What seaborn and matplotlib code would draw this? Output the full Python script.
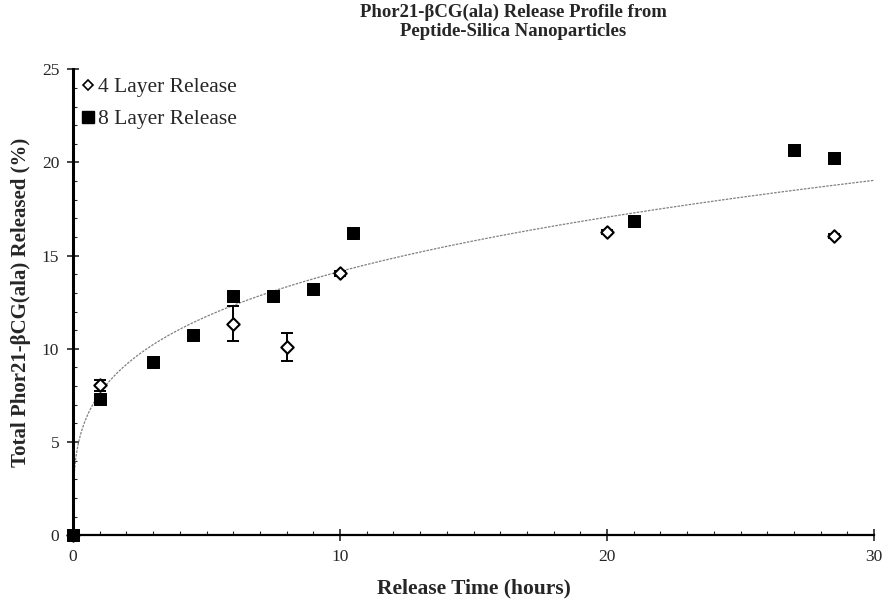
import numpy as np
import pandas as pd
import matplotlib
matplotlib.use("Agg")
import matplotlib.pyplot as plt
from matplotlib.lines import Line2D
from matplotlib.ticker import MultipleLocator
import seaborn as sns

# 4-layer release (mean and error)
time_4 = [0, 1, 6, 8, 10, 20, 28.5]
release_4 = [0, 8.05, 11.35, 10.1, 14.05, 16.25, 16.05]
err_4 = [0, 0.3, 0.95, 0.75, 0.15, 0.1, 0.12]

# 8-layer release
time_8 = [0, 1, 3, 4.5, 6, 7.5, 9, 10.5, 21, 27, 28.5]
release_8 = [0, 7.3, 9.3, 10.75, 12.85, 12.85, 13.2, 16.2, 16.85, 20.65, 20.25]

# power-law trendline y = a * t^b
trend_a = 7.6
trend_b = 0.27

x_ticks = [0, 10, 20, 30]
y_ticks = [0, 5, 10, 15, 20, 25]

sns.set_style("ticks")
plt.rcParams["font.family"] = ["Liberation Serif", "DejaVu Serif"]

fig = plt.figure(figsize=(8.84, 6.02), dpi=100)
ax = fig.add_axes([0.0826, 0.111, 0.9061, 0.774])

t_fit = np.concatenate([[0], np.geomspace(1e-4, 30, 400)])
trend = pd.DataFrame({"t": t_fit, "y": trend_a * t_fit ** trend_b})
sns.lineplot(data=trend, x="t", y="y", ax=ax, color="#808080", lw=0.9,
             linestyle=(0, (2, 1)), zorder=2, legend=False)

ax.errorbar(time_4, release_4, yerr=err_4, fmt="none", ecolor="black",
            elinewidth=1.4, capsize=4, capthick=1.4, zorder=3)

df4 = pd.DataFrame({"t": time_4, "y": release_4})
sns.scatterplot(data=df4, x="t", y="y", ax=ax, marker="D", s=40,
                facecolor="white", edgecolor="black", linewidth=1.5,
                zorder=4, legend=False, clip_on=False)
df8 = pd.DataFrame({"t": time_8, "y": release_8})
sns.scatterplot(data=df8, x="t", y="y", ax=ax, marker="s", s=80,
                color="black", edgecolor="black", zorder=5, legend=False,
                clip_on=False)

ax.set_xlim(0, 30)
ax.set_ylim(0, 25)
ax.set_xticks(x_ticks)
ax.set_yticks(y_ticks)
ax.xaxis.set_minor_locator(MultipleLocator(1))
ax.yaxis.set_minor_locator(MultipleLocator(1))
ax.tick_params(axis="both", which="major", direction="inout", length=8,
               width=1.2, labelsize=12.5, pad=6)
ax.tick_params(axis="both", which="minor", direction="in", length=3, width=0.8)

for side in ["top", "right"]:
    ax.spines[side].set_visible(False)
ax.spines["left"].set_linewidth(2.2)
ax.spines["bottom"].set_linewidth(1.6)
for side in ["left", "bottom"]:
    ax.spines[side].set_color("black")

ax.set_xlabel("Release Time (hours)", fontsize=15.5, fontweight="bold", labelpad=10)
ax.set_ylabel("Total Phor21-βCG(ala) Released (%)", fontsize=15,
              fontweight="bold", labelpad=8)
fig.text(0.581, 0.963, "Phor21-βCG(ala) Release Profile from\nPeptide-Silica Nanoparticles",
         ha="center", va="center", fontsize=13.5, fontweight="bold", linespacing=1.15)

handles = [
    Line2D([], [], marker="D", ls="none", markersize=5.5, markerfacecolor="white",
           markeredgecolor="black", markeredgewidth=1.2, label="4 Layer Release"),
    Line2D([], [], marker="s", ls="none", markersize=8, color="black",
           label="8 Layer Release"),
]
ax.legend(handles=handles, loc="upper left", bbox_to_anchor=(-0.012, 1.015),
          frameon=False, fontsize=15.5, handletextpad=0.0, handlelength=0.9,
          labelspacing=0.55, borderaxespad=0.3)

fig.savefig("out.png", dpi=100)
